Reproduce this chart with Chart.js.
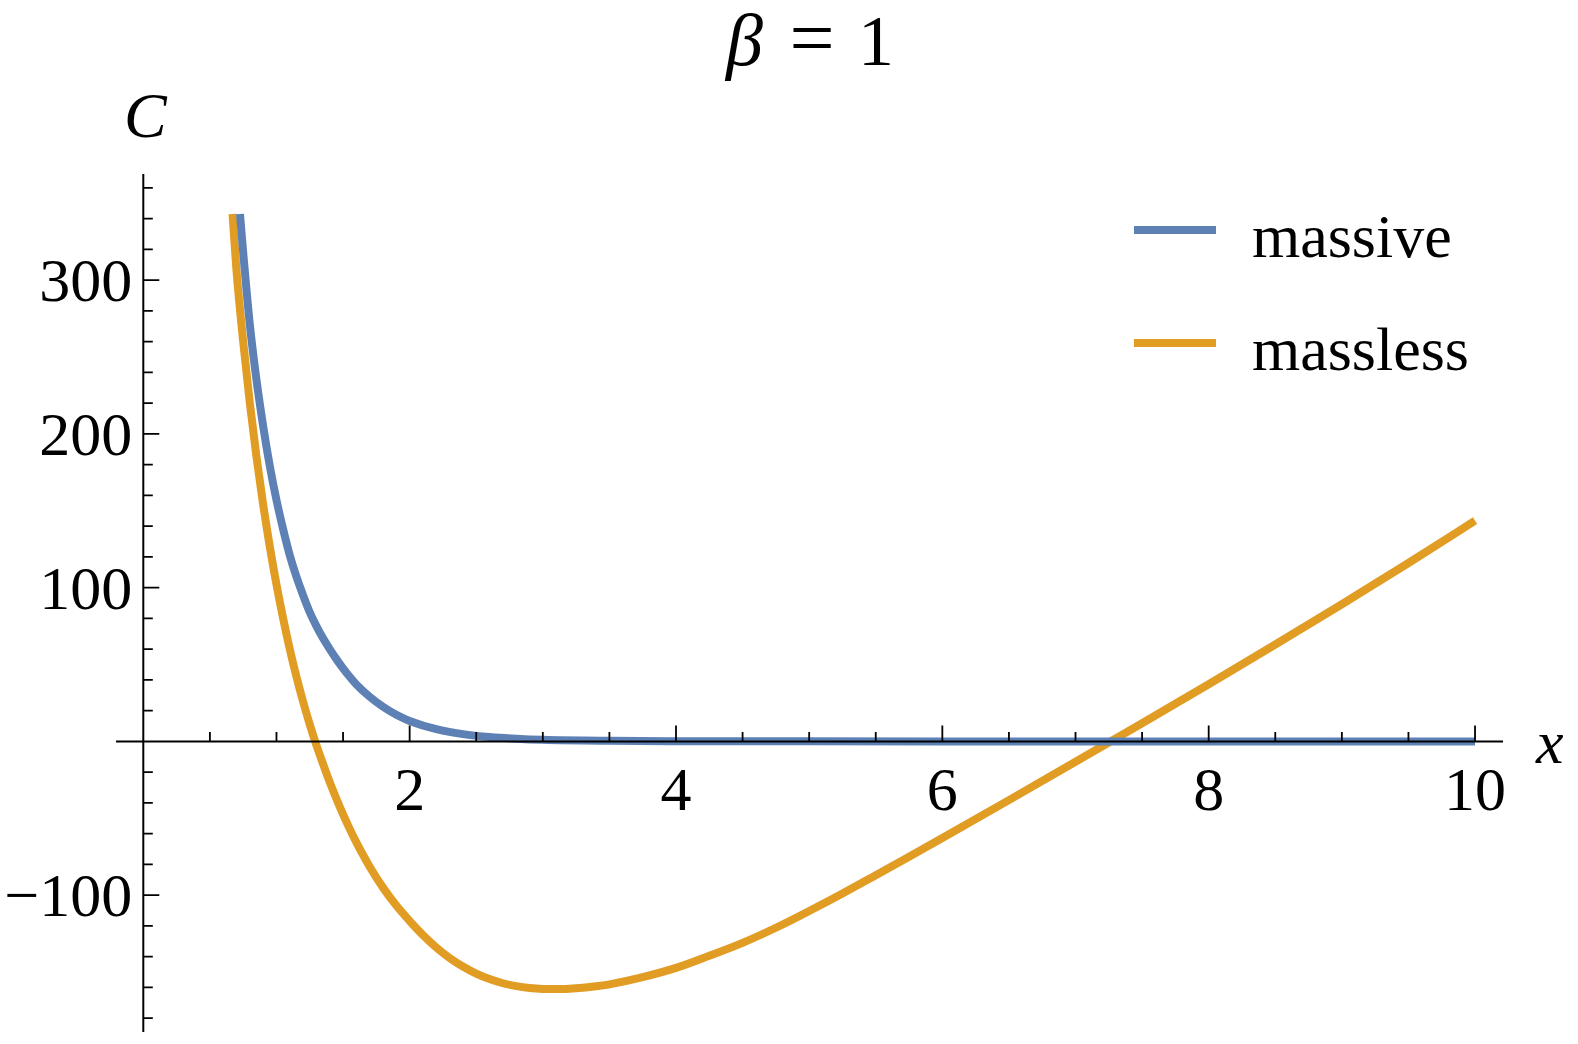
<!DOCTYPE html>
<html>
<head>
<meta charset="utf-8">
<script src="https://cdn.jsdelivr.net/npm/chart.js@4"></script>
<style>
html,body{margin:0;padding:0;background:#fff;}
canvas{display:block;}
</style>
</head>
<body>
<canvas id="c" width="1578" height="1044"></canvas>
<script>
// ---- data ----
const seriesNames = ['massive', 'massless'];
const xMassive = [0.726,0.75,0.80,0.85,0.90,0.95,1.00,1.05,1.10,1.15,1.20,1.25,1.30,1.35,1.40,1.45,1.50,1.55,1.60,1.70,1.80,1.90,2.00,2.20,2.40,2.60,2.80,3.00,3.50,4.00,5.00,6.00,7.00,8.00,9.00,10.00];
const yMassive = [343,318,271,235,205,179,157,138,121,107,95,84,75,67,60,53.5,47.5,42,37,29,22.5,17.3,13.3,7.9,4.7,2.8,1.7,1.0,0.35,0.12,0.02,0,0,0,0,0];
const xMassless = [0.67,0.70,0.75,0.80,0.85,0.90,0.95,1.00,1.05,1.10,1.15,1.20,1.25,1.30,1.35,1.40,1.45,1.50,1.55,1.60,1.70,1.80,1.90,2.00,2.10,2.20,2.30,2.40,2.50,2.60,2.70,2.80,2.90,3.00,3.10,3.20,3.30,3.40,3.50,3.75,4.00,4.25,4.50,4.75,5.00,5.25,5.50,5.75,6.00,6.50,7.00,7.50,8.00,8.50,9.00,9.50,10.00];
const yMassless = [343,306,260,220,185,154,126.6,102,80,60,42,25.8,11,-2.5,-14.7,-26.5,-37.3,-47.5,-56.9,-65.7,-81.5,-95.1,-106.8,-116.8,-126,-134,-140.8,-146.4,-151,-154.6,-157.3,-159.2,-160.4,-161,-161.1,-160.8,-160.2,-159.3,-158,-153.3,-147.3,-139.4,-131,-121.2,-110.3,-98.9,-87,-75,-62.8,-38.2,-13.3,11.8,37.2,63,89.2,116,143.5];
const xMajorTicks = [2,4,6,8,10];
const xTickLabels = ['2','4','6','8','10'];
const yMajorTicks = [-100,100,200,300];
const yTickLabels = ['\u2212100','100','200','300'];
const xMinorStep = 0.5;
const yMinorStep = 20;

const BLUE = '#5E81B5';
const ORANGE = '#E19C24';
const FONT = '"Liberation Serif", "Times New Roman", serif';

function pts(xs, ys){ return xs.map((x,i)=>({x:x, y:ys[i]})); }

const axesPlugin = {
  id: 'mmaAxes',
  afterDraw(chart){
    const ctx = chart.ctx;
    const xs = chart.scales.x, ys = chart.scales.y;
    const x0 = xs.getPixelForValue(0), y0 = ys.getPixelForValue(0);
    const ca = chart.chartArea;
    ctx.save();
    ctx.strokeStyle = '#000';
    ctx.fillStyle = '#000';
    // axis lines
    ctx.lineWidth = 2;
    ctx.beginPath();
    ctx.moveTo(ca.left, y0); ctx.lineTo(ca.right, y0);
    ctx.moveTo(x0, ca.top); ctx.lineTo(x0, ca.bottom);
    ctx.stroke();
    // x ticks (pointing up)
    ctx.lineWidth = 1.8;
    ctx.beginPath();
    for (let v = xMinorStep; v <= xs.max + 1e-9; v += xMinorStep) {
      const p = xs.getPixelForValue(v);
      const major = xMajorTicks.some(m => Math.abs(m - v) < 1e-6);
      ctx.moveTo(p, y0); ctx.lineTo(p, y0 - (major ? 16 : 9.5));
    }
    // y ticks (pointing right)
    const yStart = Math.ceil(ys.min / yMinorStep) * yMinorStep;
    for (let v = yStart; v <= ys.max + 1e-9; v += yMinorStep) {
      if (Math.abs(v) < 1e-9) continue;
      const p = ys.getPixelForValue(v);
      const major = yMajorTicks.some(m => Math.abs(m - v) < 1e-6);
      ctx.moveTo(x0, p); ctx.lineTo(x0 + (major ? 16 : 9.5), p);
    }
    ctx.stroke();
    // tick labels
    ctx.font = '62px ' + FONT;
    ctx.textBaseline = 'alphabetic';
    ctx.textAlign = 'center';
    xMajorTicks.forEach((v,i)=>{
      ctx.fillText(xTickLabels[i], xs.getPixelForValue(v), y0 + 69);
    });
    ctx.textAlign = 'right';
    yMajorTicks.forEach((v,i)=>{
      ctx.fillText(yTickLabels[i], x0 - 11, ys.getPixelForValue(v) + 21);
    });
    // axis labels
    ctx.textAlign = 'left';
    ctx.font = 'italic 64px ' + FONT;
    ctx.fillText('C', 124, 137);
    ctx.font = 'italic 62px ' + FONT;
    ctx.fillText('x', 1536, 763);
    // title
    ctx.font = 'italic 74px ' + FONT;
    ctx.fillText('\u03B2', 726, 65);
    ctx.textAlign = 'center';
    ctx.font = '80px ' + FONT;
    ctx.fillText('=', 812, 65);
    ctx.font = '72px ' + FONT;
    ctx.fillText('1', 876, 65);
    // legend
    const leg = [{c:BLUE, y:230, t:seriesNames[0]}, {c:ORANGE, y:343, t:seriesNames[1]}];
    ctx.textAlign = 'left';
    ctx.font = '62px ' + FONT;
    leg.forEach(l=>{
      ctx.strokeStyle = l.c;
      ctx.lineWidth = 8;
      ctx.beginPath();
      ctx.moveTo(1134, l.y); ctx.lineTo(1216, l.y);
      ctx.stroke();
      ctx.fillStyle = '#000';
      ctx.fillText(l.t, 1252, l.y + 27);
    });
    ctx.restore();
  }
};

new Chart(document.getElementById('c'), {
  type: 'scatter',
  data: {
    datasets: [
      { label: seriesNames[1], data: pts(xMassless, yMassless), showLine: true, borderColor: ORANGE, backgroundColor: ORANGE, borderWidth: 8, pointRadius: 0, cubicInterpolationMode: 'monotone', borderCapStyle: 'butt', order: 2 },
      { label: seriesNames[0], data: pts(xMassive, yMassive), showLine: true, borderColor: BLUE, backgroundColor: BLUE, borderWidth: 8, pointRadius: 0, cubicInterpolationMode: 'monotone', borderCapStyle: 'butt', order: 1 }
    ]
  },
  options: {
    responsive: false,
    animation: false,
    devicePixelRatio: 1,
    layout: { padding: { left: 116, right: 75, top: 174, bottom: 12 } },
    plugins: { legend: { display: false }, tooltip: { enabled: false }, title: { display: false } },
    scales: {
      x: { type: 'linear', min: -0.205, max: 10.21, display: false },
      y: { type: 'linear', min: -189, max: 369, display: false }
    }
  },
  plugins: [axesPlugin]
});
</script>
</body>
</html>
